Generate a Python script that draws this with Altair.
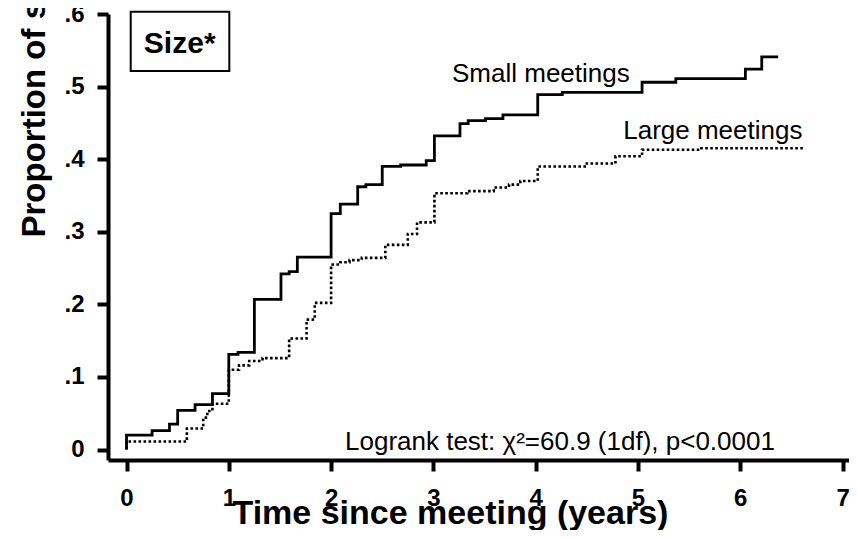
import altair as alt
import pandas as pd

# Small meetings (solid) step curve: time (years), cumulative proportion
small_t = [0, 0, 0.25, 0.42, 0.50, 0.67, 0.84, 1.00, 1.09, 1.25, 1.51, 1.59, 1.67, 2.00, 2.09,
           2.26, 2.34, 2.50, 2.68, 2.93, 3.01, 3.26, 3.34, 3.51, 3.68, 4.02, 4.26, 5.04, 5.37,
           6.05, 6.21, 6.37]
small_v = [0, 0.020, 0.026, 0.035, 0.054, 0.062, 0.077, 0.131, 0.134, 0.207, 0.242, 0.245, 0.265,
           0.325, 0.338, 0.362, 0.365, 0.390, 0.392, 0.398, 0.432, 0.449, 0.453, 0.456, 0.461,
           0.489, 0.492, 0.506, 0.511, 0.524, 0.541, 0.541]

# Large meetings (dotted) step curve
large_t = [0, 0, 0.59, 0.75, 0.79, 0.84, 1.00, 1.10, 1.20, 1.33, 1.59, 1.76, 1.84, 2.00, 2.09,
           2.18, 2.30, 2.53, 2.75, 2.84, 3.01, 3.33, 3.59, 3.74, 3.85, 4.02, 4.50, 4.78, 5.04,
           5.62, 6.63]
large_v = [0, 0.011, 0.029, 0.044, 0.053, 0.063, 0.110, 0.116, 0.122, 0.126, 0.153, 0.179, 0.202,
           0.255, 0.258, 0.261, 0.264, 0.282, 0.297, 0.313, 0.353, 0.356, 0.361, 0.365, 0.370,
           0.390, 0.394, 0.404, 0.413, 0.415, 0.415]

x_ticks = [0, 1, 2, 3, 4, 5, 6, 7]
y_ticks = [0, 0.1, 0.2, 0.3, 0.4, 0.5, 0.6]

curve_labels = ["Small meetings", "Large meetings"]
curve_label_t = [3.182, 4.856]
curve_label_v = [0.5067, 0.4273]

logrank_text = ["Logrank test: χ²=60.9 (1df), p<0.0001"]
logrank_t = [2.136]
logrank_v = [0.0]

box_text = ["Size*"]
box_t = [0.041]
box_t2 = [1.005]
box_v = [0.5214]
box_v2 = [0.603]
box_text_t = [0.52]
box_text_v = [0.5458]

FONT = "Liberation Sans"

small_df = pd.DataFrame({"t": small_t, "v": small_v})
large_df = pd.DataFrame({"t": large_t, "v": large_v})
lab_df = pd.DataFrame({"t": curve_label_t, "v": curve_label_v, "label": curve_labels})
lr_df = pd.DataFrame({"t": logrank_t, "v": logrank_v, "label": logrank_text})
box_df = pd.DataFrame({"t": box_t, "t2": box_t2, "v": box_v, "v2": box_v2})
boxt_df = pd.DataFrame({"t": box_text_t, "v": box_text_v, "label": box_text})

xscale = alt.Scale(domain=[-0.181, 7.063], nice=False, zero=False)
yscale = alt.Scale(domain=[-0.0144, 0.6], nice=False, zero=False)

x_axis = alt.Axis(
    values=x_ticks, format="d", grid=False,
    domainWidth=4, domainColor="black", tickWidth=4, tickColor="black", tickSize=11,
    labelFont=FONT, labelFontWeight="bold", labelFontSize=24, labelColor="black",
    labelPadding=15, labelOverlap=False, labelFlush=False,
    title="Time since meeting (years)", titleFont=FONT, titleFontWeight="bold",
    titleFontSize=34, titleColor="black", titleAlign="left", titleAnchor="start",
    titleX=124, titleY=63, titleBaseline="alphabetic", titleAngle=0,
)
y_axis = alt.Axis(
    values=y_ticks, grid=False,
    labelExpr="datum.value == 0 ? '0' : replace(format(datum.value, '.1f'), '0.', '.')",
    domainWidth=4, domainColor="black", tickWidth=4, tickColor="black", tickSize=11,
    labelFont=FONT, labelFontWeight="bold", labelFontSize=24, labelColor="black",
    labelPadding=13, labelOverlap=False, labelFlush=False,
    title="Proportion of submissions published", titleFont=FONT, titleFontWeight="bold",
    titleFontSize=33, titleColor="black", titleAngle=270, titleAlign="left",
    titleX=-64, titleY=223, titleBaseline="alphabetic",
)

small_line = alt.Chart(small_df).mark_line(
    interpolate="step-after", color="black", strokeWidth=2.8
).encode(
    x=alt.X("t:Q", scale=xscale, axis=x_axis),
    y=alt.Y("v:Q", scale=yscale, axis=y_axis),
)

large_line = alt.Chart(large_df).mark_line(
    interpolate="step-after", color="black", strokeWidth=2.6, strokeDash=[2.6, 2.4]
).encode(
    x=alt.X("t:Q", scale=xscale),
    y=alt.Y("v:Q", scale=yscale),
)

labels = alt.Chart(lab_df).mark_text(
    align="left", baseline="alphabetic", font=FONT, fontSize=26, color="black"
).encode(x=alt.X("t:Q", scale=xscale), y=alt.Y("v:Q", scale=yscale), text="label:N")

logrank = alt.Chart(lr_df).mark_text(
    align="left", baseline="alphabetic", font=FONT, fontSize=26, color="black"
).encode(x=alt.X("t:Q", scale=xscale), y=alt.Y("v:Q", scale=yscale), text="label:N")

box = alt.Chart(box_df).mark_rect(
    fill="white", stroke="black", strokeWidth=2
).encode(
    x=alt.X("t:Q", scale=xscale), x2="t2:Q",
    y=alt.Y("v:Q", scale=yscale), y2="v2:Q",
)

box_label = alt.Chart(boxt_df).mark_text(
    align="center", baseline="alphabetic", font=FONT, fontSize=30, fontWeight="bold", color="black"
).encode(x=alt.X("t:Q", scale=xscale), y=alt.Y("v:Q", scale=yscale), text="label:N")

chart = alt.layer(small_line, large_line, labels, logrank, box, box_label).properties(
    width=741, height=446,
    autosize=alt.AutoSizeParams(type="none"),
    padding={"left": 100, "top": 6, "right": 0, "bottom": 70},
    background="white",
).configure_view(stroke=None)

chart.save("out.html", embed_options={"renderer": "svg", "actions": False})
